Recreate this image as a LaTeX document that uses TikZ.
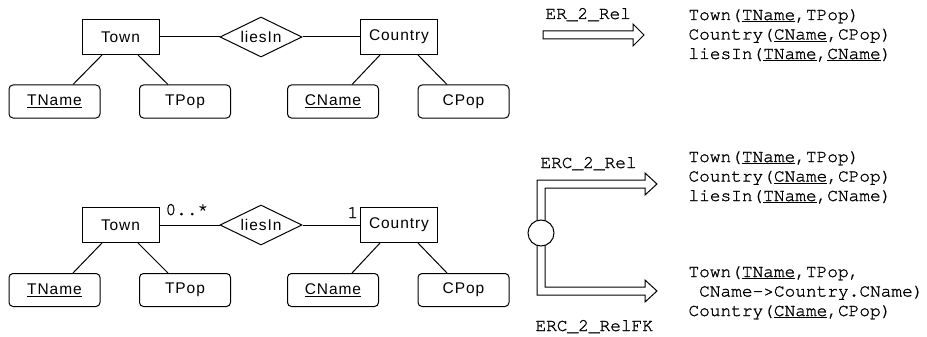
\documentclass[tikz,border=0pt]{standalone}
\usepackage{fontspec}
\setmainfont{Liberation Sans}
\newfontfamily\erfam{Liberation Sans}[LetterSpace=6]
\newfontfamily\curfam{texgyrecursor-regular.otf}[FakeBold=1.2]
\usetikzlibrary{shapes.geometric}
\newcommand\erfont{\erfam\fontsize{15.5}{18}\selectfont}
\newcommand\curfont{\curfam\fontsize{17.8}{19.5}\selectfont}
\begin{document}
\begin{tikzpicture}[x=1pt,y=-1pt,line width=1pt,
  entity/.style={draw,minimum width=77pt,minimum height=35pt,inner sep=0pt,font=\erfont},
  attr/.style={draw,rounded corners=4pt,minimum width=91pt,minimum height=33pt,inner sep=0pt,font=\erfont},
  rel/.style={draw,diamond,aspect=2.05,minimum width=82pt,minimum height=40pt,inner sep=0pt,font=\erfont},
  mono/.style={font=\curfont,inner sep=0pt,anchor=base west},
  hollow/.style={draw,line width=1pt,line join=miter}]
\useasboundingbox (0,0) rectangle (927,337);

% ---- top ER diagram
\node[entity] (t1) at (120.5,37) {Town};
\node[rel] (r1) at (261,37) {liesIn};
\node[entity] (c1) at (399,37) {Country};
\node[attr] (tn1) at (54.5,101.5) {\underline{TName}};
\node[attr] (tp1) at (185,101.5) {TPop};
\node[attr] (cn1) at (333,101.5) {\underline{CName}};
\node[attr] (cp1) at (463.5,101.5) {CPop};
\draw (t1.east) -- (r1.west);
\draw (r1.east) -- (c1.west);
\draw ([xshift=-18.5pt]t1.south) -- ([xshift=18.5pt]tn1.north);
\draw ([xshift=17.5pt]t1.south) -- ([xshift=-17pt]tp1.north);
\draw ([xshift=-19pt]c1.south) -- ([xshift=19pt]cn1.north);
\draw ([xshift=19pt]c1.south) -- ([xshift=-16.5pt]cp1.north);

% ---- bottom ER diagram
\node[entity] (t2) at (120.5,225) {Town};
\node[rel] (r2) at (261,225) {liesIn};
\node[entity] (c2) at (399,225) {Country};
\node[attr] (tn2) at (54.5,290) {\underline{TName}};
\node[attr] (tp2) at (185,290) {TPop};
\node[attr] (cn2) at (333,290) {\underline{CName}};
\node[attr] (cp2) at (463.5,290) {CPop};
\draw (t2.east) -- (r2.west);
\draw (r2.east) -- (c2.west);
\draw ([xshift=-18.5pt]t2.south) -- ([xshift=18.5pt]tn2.north);
\draw ([xshift=17.5pt]t2.south) -- ([xshift=-17pt]tp2.north);
\draw ([xshift=-19pt]c2.south) -- ([xshift=19pt]cn2.north);
\draw ([xshift=19pt]c2.south) -- ([xshift=-16.5pt]cp2.north);
\node[mono] (m1) at (165,215) {0..*};
\node[mono] (m2) at (347,218) {1};

% ---- top transformation arrow
\node[mono] (l1) at (545,19) {ER\_2\_Rel};
\coordinate (a1) at (543,35);
\draw[hollow] (a1) ++(0,-4) -- ++(90,0) -- ++(0,-7) -- ++(11,11) -- ++(-11,11)
  -- ++(0,-7) -- ++(-90,0) -- cycle;

\node[mono] (ra1) at (688,20) {Town(\underline{TName},TPop)};
\node[mono] (ra2) at (688,39.5) {Country(\underline{CName},CPop)};
\node[mono] (ra3) at (688,59) {liesIn(\underline{TName},\underline{CName})};

% ---- forked transformation arrows
\node[mono] (l2) at (540,168) {ERC\_2\_Rel};
\node[mono] (l3) at (535,331) {ERC\_2\_RelFK};
\coordinate (fk) at (541,233);
\draw[hollow] (fk) ++(-4,0) -- ++(0,-53) -- ++(108,0) -- ++(0,-7) -- ++(12,11)
  -- ++(-12,11) -- ++(0,-7) -- ++(-100,0) -- ++(0,45);
\draw[hollow] (fk) ++(-4,0) -- ++(0,62) -- ++(108,0) -- ++(0,7) -- ++(12,-11)
  -- ++(-12,-11) -- ++(0,7) -- ++(-100,0) -- ++(0,-54);
\node[draw,circle,fill=white,minimum size=26pt,inner sep=0pt] (fork) at (fk) {};

\node[mono] (rb1) at (688,162) {Town(\underline{TName},TPop)};
\node[mono] (rb2) at (688,181.5) {Country(\underline{CName},CPop)};
\node[mono] (rb3) at (688,201) {liesIn(\underline{TName},CName)};

\node[mono] (rc1) at (688,277) {Town(\underline{TName},TPop,};
\node[mono] (rc2) at (698.7,296.5) {CName->Country.CName)};
\node[mono] (rc3) at (688,316) {Country(\underline{CName},CPop)};
\end{tikzpicture}
\end{document}
